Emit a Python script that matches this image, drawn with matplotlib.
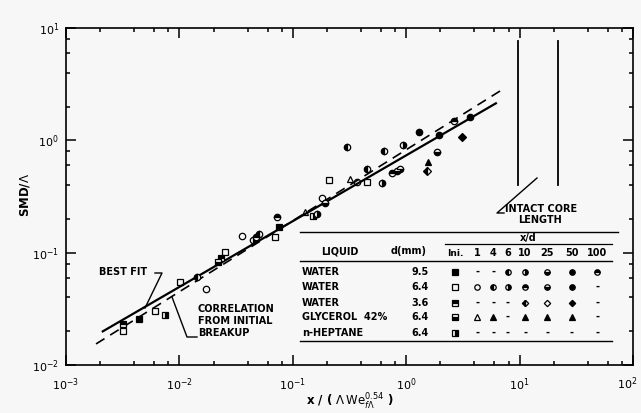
import matplotlib
matplotlib.use('Agg')
import math
import matplotlib.pyplot as plt
from matplotlib.ticker import LogLocator, NullFormatter, FuncFormatter
from matplotlib.lines import Line2D

# ---------------- data ----------------
# correlation lines (end points)
fit_x = [0.00207, 6.3]
fit_y = [0.0197, 2.16]
corr_x = [0.00184, 7.0]
corr_y = [0.0154, 2.82]
# intact core length markers
core_x = [9.7, 22.0]
core_y = [0.40, 7.7]

# initial breakup (squares)
w95_ini_x = [0.00441, 0.0755]
w95_ini_y = [0.0256, 0.168]
w64_ini_x = [0.00318, 0.0061, 0.0101, 0.0252, 0.0697, 0.208, 0.451]
w64_ini_y = [0.0201, 0.0302, 0.0546, 0.101, 0.137, 0.439, 0.43]
w36_ini_x = [0.00318, 0.0233]
w36_ini_y = [0.0232, 0.0891]
g_ini_x = [0.0219]
g_ini_y = [0.0822]
h_ini_x = [0.00746, 0.151]
h_ini_y = [0.0279, 0.214]

# water d = 9.5 mm
w95_6_x = [0.301, 0.637]
w95_6_y = [0.879, 0.81]
w95_10_x = [0.94]
w95_10_y = [0.90]
w95_50_x = [1.30]
w95_50_y = [1.19]
w95_100_x = [2.64]
w95_100_y = [1.50]

# water d = 6.4 mm
w64_1_x = [0.0172, 0.0356, 0.181, 0.368]
w64_1_y = [0.0473, 0.140, 0.304, 0.43]
w64_4_x = [0.0143, 0.0503, 0.451]
w64_4_y = [0.0605, 0.146, 0.561]
w64_6_x = [0.0446, 0.163, 0.612]
w64_6_y = [0.129, 0.219, 0.421]
w64_10_x = [0.0473, 0.0727, 0.75]
w64_10_y = [0.137, 0.206, 0.517]
w64_25_x = [0.192, 0.83, 0.88, 1.87]
w64_25_y = [0.274, 0.538, 0.55, 0.79]
w64_50_x = [1.95, 3.65]
w64_50_y = [1.12, 1.62]

# water d = 3.6 mm
w36_10_x = [1.52]
w36_10_y = [0.538]
w36_50_x = [3.10]
w36_50_y = [1.06]

# glycerol 42%
g_1_x = [0.128, 0.319]
g_1_y = [0.228, 0.457]
g_10_x = [1.56]
g_10_y = [0.647]

# table contents
liquids = ['WATER', 'WATER', 'WATER', 'GLYCEROL  42%', 'n-HEPTANE']
diams = ['9.5', '6.4', '3.6', '6.4', '6.4']
xd_labels = ['Ini.', '1', '4', '6', '10', '25', '50', '100']
table_cells = [
    ['W95_ini', '-', '-', 'W95_6', 'W95_10', 'W95_25', 'W95_50', 'W95_100'],
    ['W64_ini', 'W64_1', 'W64_4', 'W64_6', 'W64_10', 'W64_25', 'W64_50', '-'],
    ['W36_ini', '-', '-', '-', 'W36_10', 'W36_25', 'W36_50', '-'],
    ['G_ini', 'G_1', 'G_4', '-', 'G_10', 'G_25', 'G_50', '-'],
    ['H_ini', '-', '-', '-', '-', '-', '-', '-'],
]

# ---------------- styling ----------------
BG = '#f7f7f7'
MS = {
    'W95_ini': ('s', 'full'), 'W95_6': ('o', 'left'), 'W95_10': ('o', 'right'),
    'W95_25': ('o', 'bottom'), 'W95_50': ('o', 'full'), 'W95_100': ('o', 'top'),
    'W64_ini': ('s', 'none'), 'W64_1': ('o', 'none'), 'W64_4': ('o', 'left'),
    'W64_6': ('o', 'right'), 'W64_10': ('o', 'top'), 'W64_25': ('o', 'bottom'),
    'W64_50': ('o', 'full'),
    'W36_ini': ('s', 'top'), 'W36_10': ('D', 'left'), 'W36_25': ('D', 'none'),
    'W36_50': ('D', 'full'),
    'G_ini': ('s', 'bottom'), 'G_1': ('^', 'none'), 'G_4': ('^', 'full'),
    'G_10': ('^', 'full'), 'G_25': ('^', 'full'), 'G_50': ('^', 'full'),
    'H_ini': ('s', 'right'),
}
SIZE = {'s': 4.3, 'o': 4.6, 'D': 3.8, '^': 4.8}


def mstyle(key):
    m, fs = MS[key]
    return dict(marker=m, fillstyle=fs, markersize=SIZE[m], markeredgewidth=0.9,
                markeredgecolor='black', markerfacecolor='black',
                markerfacecoloralt=BG, linestyle='none')


W, H = 641, 413
L, R, T, B = 66, 633, 28, 365
fig = plt.figure(figsize=(W / 100, H / 100), dpi=100, facecolor=BG)
ax = fig.add_axes([L / W, 1 - B / H, (R - L) / W, (B - T) / H])
ax.set_facecolor(BG)
ax.set_xscale('log')
ax.set_yscale('log')
ax.set_xlim(1e-3, 1e2)
ax.set_ylim(1e-2, 1e1)


def dec_label(v, pos):
    e = int(round(math.log10(v)))
    return '$\\mathdefault{10^{%d}}$' % e


def dec_label_x(v, pos):
    # the last decade label is placed by hand so it is not clipped
    if v > 50:
        return ''
    return dec_label(v, pos)


for axis in (ax.xaxis, ax.yaxis):
    axis.set_major_locator(LogLocator(base=10, numticks=10))
    axis.set_minor_locator(LogLocator(base=10, subs=(2, 4, 6, 8), numticks=10))
    axis.set_minor_formatter(NullFormatter())
ax.xaxis.set_major_formatter(FuncFormatter(dec_label_x))
ax.yaxis.set_major_formatter(FuncFormatter(dec_label))
ax.tick_params(which='both', direction='in', top=True, right=True, width=1.1)
ax.tick_params(which='major', length=7.5, labelsize=8)
ax.tick_params(which='minor', length=3)
ax.tick_params(axis='x', which='major', pad=8)
ax.tick_params(axis='y', which='major', pad=5)
for s in ax.spines.values():
    s.set_linewidth(1.2)
fig.text(627 / W, 1 - 384 / H, '$\\mathdefault{10^{2}}$', ha='center',
         va='center', fontsize=8)

# lines
ax.plot(fit_x, fit_y, color='black', lw=1.6, solid_capstyle='butt')
ax.plot(corr_x, corr_y, color='black', lw=1.2, dashes=(6, 4))
for cx in core_x:
    ax.plot([cx, cx], core_y, color='black', lw=1.3)

# data points
series = [
    ('W95_ini', w95_ini_x, w95_ini_y), ('W64_ini', w64_ini_x, w64_ini_y),
    ('W36_ini', w36_ini_x, w36_ini_y), ('G_ini', g_ini_x, g_ini_y),
    ('H_ini', h_ini_x, h_ini_y),
    ('W95_6', w95_6_x, w95_6_y), ('W95_10', w95_10_x, w95_10_y),
    ('W95_50', w95_50_x, w95_50_y), ('W95_100', w95_100_x, w95_100_y),
    ('W64_1', w64_1_x, w64_1_y), ('W64_4', w64_4_x, w64_4_y),
    ('W64_6', w64_6_x, w64_6_y), ('W64_10', w64_10_x, w64_10_y),
    ('W64_25', w64_25_x, w64_25_y), ('W64_50', w64_50_x, w64_50_y),
    ('W36_10', w36_10_x, w36_10_y), ('W36_50', w36_50_x, w36_50_y),
    ('G_1', g_1_x, g_1_y), ('G_10', g_10_x, g_10_y),
]
for key, xs, ys in series:
    ax.plot(xs, ys, **mstyle(key), zorder=3)


# helpers for annotation placement (pixel -> axes fraction)
def axf(px, py):
    return ((px - L) / (R - L), (B - py) / (B - T))


def pline(pts, lw=1.0):
    xs, ys = zip(*[axf(*p) for p in pts])
    ax.add_line(Line2D(xs, ys, transform=ax.transAxes, color='black', lw=lw,
                       clip_on=False))


def ptext(px, py, s, **kw):
    x, y = axf(px, py)
    kw.setdefault('fontsize', 7)
    kw.setdefault('fontweight', 'bold')
    ax.text(x, y, s, transform=ax.transAxes, va='center', **kw)


# annotations
ptext(99, 272, 'BEST FIT', ha='left')
pline([(155, 273), (162, 273), (145, 308)])
ptext(198, 309, 'CORRELATION', ha='left')
ptext(198, 321, 'FROM INITIAL', ha='left')
ptext(198, 333, 'BREAKUP', ha='left')
pline([(172, 297), (187, 337), (197, 337)])
ptext(541, 209, 'INTACT CORE', ha='center')
ptext(540, 220, 'LENGTH', ha='center')
pline([(537, 178), (497, 213), (504, 213)])

# table
pline([(300, 232), (618, 232)], lw=1.0)
pline([(445, 244), (612, 244)], lw=0.9)
pline([(300, 261), (612, 261)], lw=1.0)
pline([(300, 341), (612, 341)], lw=1.0)
ptext(340, 252, 'LIQUID', ha='center')
ptext(409, 251, 'd(mm)', ha='center')
ptext(528, 238, 'x/d', ha='center')
col_x = [455, 477, 493, 508, 525, 547, 572, 597]
row_y = [272, 287, 303, 317, 333]
for cx, lab in zip(col_x, xd_labels):
    ptext(cx, 253, lab, ha='center', fontsize=6.5 if lab == 'Ini.' else 7)
for ry, liq, d, cells in zip(row_y, liquids, diams, table_cells):
    ptext(302, ry, liq, ha='left')
    ptext(420, ry, d, ha='center')
    for cx, c in zip(col_x, cells):
        if c == '-':
            ptext(cx, ry, '-', ha='center')
        else:
            x, y = axf(cx, ry)
            st = mstyle(c)
            st['markersize'] *= 0.85
            ax.plot([x], [y], transform=ax.transAxes, clip_on=False, **st)

# axis labels
fig.text(25 / W, 1 - 195 / H, 'SMD/$\\Lambda$', rotation=90, ha='center',
         va='center', fontsize=8.5, fontweight='bold')
fig.text(350 / W, 1 - 402 / H, 'x / ( $\\Lambda\\,\\mathrm{We}_{f\\Lambda}^{0.54}$ )',
         ha='center', va='center', fontsize=8.5, fontweight='bold')

fig.savefig('out.png', dpi=100, facecolor=BG)
